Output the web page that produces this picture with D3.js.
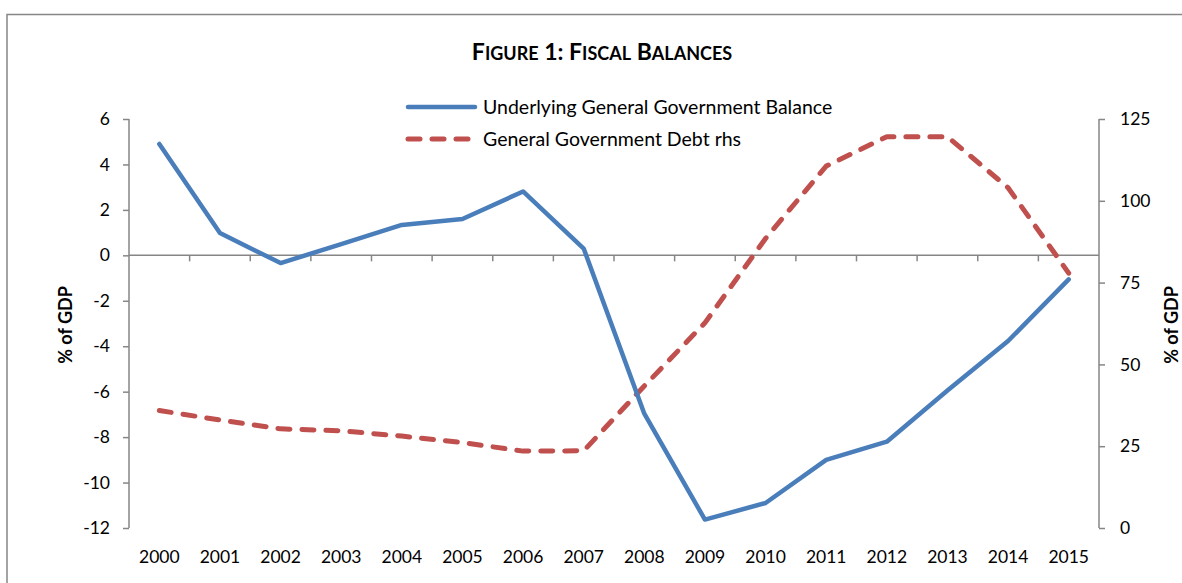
<!DOCTYPE html>
<html>
<head>
<meta charset="utf-8">
<script src="https://cdn.jsdelivr.net/npm/d3@7"></script>
<style>
  html, body { margin: 0; padding: 0; background: #fff; }
  svg { display: block; font-family: Lato, "Open Sans", sans-serif; }
</style>
</head>
<body>
<svg id="chart" width="1182" height="583"></svg>
<script>
// Fiscal balances, 2000-2015
const years = ["2000","2001","2002","2003","2004","2005","2006","2007",
               "2008","2009","2010","2011","2012","2013","2014","2015"];
// Underlying general government balance, % of GDP (left axis)
const balance = [4.9, 0.98, -0.34, 0.49, 1.34, 1.6, 2.81, 0.3,
                 -6.97, -11.63, -10.9, -9.0, -8.2, -5.95, -3.77, -1.06];
// General government debt, % of GDP (right axis)
const debt = [35.9, 33.0, 30.3, 29.7, 28.1, 26.1, 23.5, 23.6,
              43.4, 62.7, 88.5, 110.6, 119.6, 119.6, 104.0, 77.9];
const leftTicks = [6, 4, 2, 0, -2, -4, -6, -8, -10, -12];
const rightTicks = [125, 100, 75, 50, 25, 0];
const seriesNames = ["Underlying General Government Balance", "General Government Debt rhs"];

const svg = d3.select("#chart");
const axisGrey = "#868686";
const blue = "#4a7ebb";
const red = "#c0504d";

const plot = { left: 129, right: 1099, top: 119, bottom: 528 };

const x = d3.scaleBand().domain(years).range([plot.left, plot.right]);
const yL = d3.scaleLinear().domain([-12, 6]).range([plot.bottom, plot.top]);
const yR = d3.scaleLinear().domain([0, 125]).range([plot.bottom, plot.top]);

// outer frame
svg.append("rect")
  .attr("x", 7).attr("y", 14.5).attr("width", 1200).attr("height", 620)
  .attr("fill", "none").attr("stroke", axisGrey).attr("stroke-width", 1.5);

// title in small caps
const title = svg.append("text")
  .attr("x", 602).attr("y", 60)
  .attr("text-anchor", "middle")
  .attr("font-weight", "bold")
  .attr("fill", "#000");
[["F", 23], ["IGURE", 18], [" 1: F", 23], ["ISCAL", 18], [" B", 23], ["ALANCES", 18]]
  .forEach(([t, s]) => title.append("tspan").attr("font-size", s).text(t));

const plainFormat = d => String(d);

// left axis
const leftAxis = d3.axisLeft(yL).tickValues(leftTicks).tickSize(6).tickPadding(13).tickFormat(plainFormat);
const gL = svg.append("g").attr("transform", `translate(${plot.left},0)`).call(leftAxis);

// right axis
const rightAxis = d3.axisRight(yR).tickValues(rightTicks).tickSize(6).tickPadding(15).tickFormat(plainFormat);
const gR = svg.append("g").attr("transform", `translate(${plot.right},0)`).call(rightAxis);

[gL, gR].forEach(g => {
  g.select(".domain").remove();
  g.selectAll(".tick line").attr("stroke", axisGrey).attr("stroke-width", 1.5);
  g.selectAll(".tick text").attr("font-size", 17.5).attr("fill", "#000")
    .attr("font-family", "Lato, sans-serif");
  // plain vertical axis line
  g.append("line").attr("y1", plot.top).attr("y2", plot.bottom)
    .attr("stroke", axisGrey).attr("stroke-width", 1.5);
});

// category axis along the zero line
const xAxis = d3.axisBottom(x).tickSize(0).tickFormat("");
const gX = svg.append("g").attr("transform", `translate(0,${yL(0)})`).call(xAxis);
gX.select(".domain").attr("stroke", axisGrey).attr("stroke-width", 1.5)
  .attr("d", `M${plot.left},0H${plot.right}`);
gX.selectAll(".tick").remove();
// tick marks at category boundaries
const boundaries = years.slice(1).map(y => x(y));
gX.selectAll("line.bound").data(boundaries).join("line")
  .attr("class", "bound")
  .attr("x1", d => d).attr("x2", d => d)
  .attr("y1", 0).attr("y2", 6)
  .attr("stroke", axisGrey).attr("stroke-width", 1.5);

// year labels along the bottom
svg.append("g").selectAll("text").data(years).join("text")
  .attr("x", d => x(d) + x.bandwidth() / 2)
  .attr("y", 563)
  .attr("text-anchor", "middle")
  .attr("font-size", 17.5)
  .attr("fill", "#000")
  .text(d => d);

// axis titles
svg.append("text")
  .attr("transform", "translate(72,325) rotate(-90)")
  .attr("text-anchor", "middle")
  .attr("font-size", 18).attr("font-weight", "bold")
  .text("% of GDP");
svg.append("text")
  .attr("transform", "translate(1178,325) rotate(-90)")
  .attr("text-anchor", "middle")
  .attr("font-size", 18).attr("font-weight", "bold")
  .text("% of GDP");

const cx = (d, i) => x(years[i]) + x.bandwidth() / 2;

// debt line (dashed, right axis)
svg.append("path")
  .datum(debt)
  .attr("fill", "none")
  .attr("stroke", red)
  .attr("stroke-width", 5)
  .attr("stroke-linecap", "round")
  .attr("stroke-linejoin", "round")
  .attr("stroke-dasharray", "12,12")
  .attr("d", d3.line().x(cx).y(d => yR(d)));

// balance line (solid, left axis)
svg.append("path")
  .datum(balance)
  .attr("fill", "none")
  .attr("stroke", blue)
  .attr("stroke-width", 4.5)
  .attr("stroke-linecap", "round")
  .attr("stroke-linejoin", "round")
  .attr("d", d3.line().x(cx).y(d => yL(d)));

// legend
const legend = svg.append("g");
const legendRows = [
  { name: seriesNames[0], color: blue, dash: null, y: 107 },
  { name: seriesNames[1], color: red, dash: "12,12", y: 139 }
];
legendRows.forEach(r => {
  legend.append("line")
    .attr("x1", 408).attr("x2", 475)
    .attr("y1", r.y).attr("y2", r.y)
    .attr("stroke", r.color)
    .attr("stroke-width", r.dash ? 5 : 4.5)
    .attr("stroke-linecap", "round")
    .attr("stroke-dasharray", r.dash);
  legend.append("text")
    .attr("x", 483).attr("y", r.y + 7)
    .attr("font-size", 19.5)
    .attr("fill", "#000")
    .text(r.name);
});
</script>
</body>
</html>
